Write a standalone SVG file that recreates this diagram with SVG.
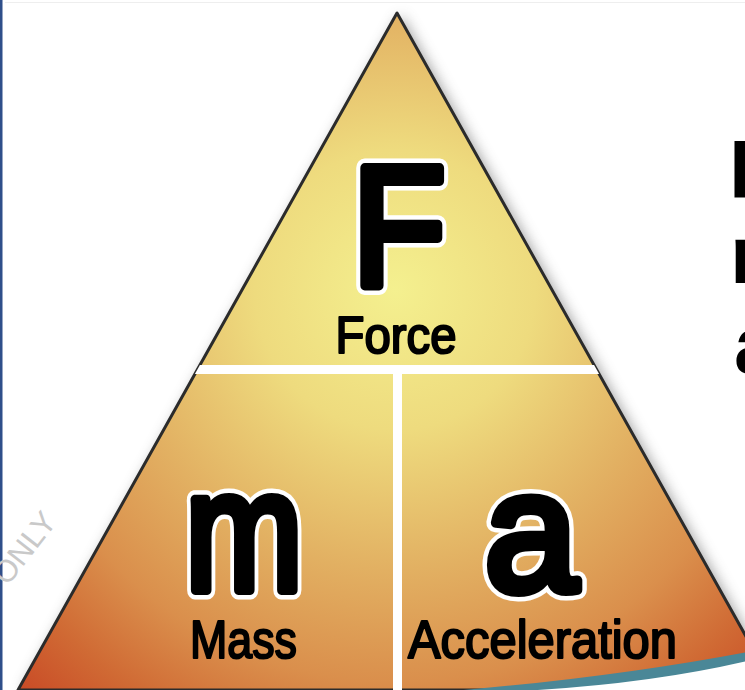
<svg xmlns="http://www.w3.org/2000/svg" width="745" height="690" viewBox="0 0 745 690">
<style>
.big{font-family:"Liberation Sans",Arial,sans-serif;font-size:170px;text-anchor:middle}
.halo{fill:#fff;stroke:#fff;stroke-width:19;stroke-linejoin:round;stroke-linecap:round}
.ink{fill:#000;stroke:#000;stroke-width:10;stroke-linejoin:round;stroke-linecap:round}
.lbl{font-family:"Liberation Sans",Arial,sans-serif;font-size:54px;fill:#000;stroke:#000;stroke-width:2.2;stroke-linejoin:round}
.side{font-family:"Liberation Sans",Arial,sans-serif;font-weight:bold;font-size:82px;fill:#000}
.div{fill:#fff}
</style>
<defs>
<radialGradient id="warm" gradientUnits="userSpaceOnUse" cx="395" cy="290" r="560">
<stop offset="0" stop-color="#f4f08f"/>
<stop offset="0.25" stop-color="#eedb7e"/>
<stop offset="0.5" stop-color="#e2b062"/>
<stop offset="0.7" stop-color="#da8f4c"/>
<stop offset="0.85" stop-color="#d06a34"/>
<stop offset="1" stop-color="#c84624"/>
</radialGradient>
<filter id="shadow" x="-20%" y="-20%" width="140%" height="140%">
<feGaussianBlur stdDeviation="7"/>
</filter>
<clipPath id="tri">
<polygon points="397,13 18,690 776,690"/>
</clipPath>
</defs>
<rect width="745" height="690" fill="#fff"/>
<rect x="0" y="0" width="2.5" height="690" fill="#2f4f8a"/>
<line x1="5" y1="2.5" x2="745" y2="2.5" stroke="#eeeeee" stroke-width="1"/>
<text transform="translate(58,522) rotate(-52)" style="font-family:'Liberation Sans',Arial,sans-serif;font-size:31px;fill:#c9c9c9;text-anchor:end">ONLY</text>
<g id="triangle">
<polygon points="401,15 22,692 780,692" fill="#555" opacity="0.55" filter="url(#shadow)"/>
<polygon points="397,13 18,690 776,690" fill="url(#warm)" stroke="#2b2b2b" stroke-width="3" stroke-linejoin="round"/>
</g>
<g id="connectors" clip-path="url(#tri)">
<rect class="div" x="180" y="365" width="440" height="9"/>
<rect class="div" x="393" y="370" width="9" height="330"/>
</g>
<g id="force">
<g transform="translate(399,286) scale(0.9,1)">
<text class="big halo" x="0" y="0">F</text>
<text class="big ink" x="0" y="0">F</text>
</g>
<text class="lbl" x="396" y="353" text-anchor="middle" textLength="121" lengthAdjust="spacingAndGlyphs" style="font-size:52px">Force</text>
</g>
<g id="mass">
<g transform="translate(244,590) scale(0.83,1)">
<text class="big halo" x="0" y="0">m</text>
<text class="big ink" x="0" y="0">m</text>
</g>
<text class="lbl" x="190" y="658" textLength="107" lengthAdjust="spacingAndGlyphs">Mass</text>
</g>
<g id="acceleration">
<g transform="translate(531,590) scale(0.98,1)">
<text class="big halo" x="0" y="0">a</text>
<text class="big ink" x="0" y="0">a</text>
</g>
<text class="lbl" x="408" y="658" textLength="269" lengthAdjust="spacingAndGlyphs">Acceleration</text>
</g>
<g id="curl">
<path d="M 440 692 Q 610 678 747 652 L 747 692 Z" fill="#4a8797"/>
<path d="M 500 692 Q 640 686 747 661 L 747 692 Z" fill="#fff"/>
</g>
<g id="side-text">
<text class="side" x="729" y="198">F</text>
<text class="side" x="730" y="283">m</text>
<text class="side" x="734" y="373">a</text>
</g>
</svg>
